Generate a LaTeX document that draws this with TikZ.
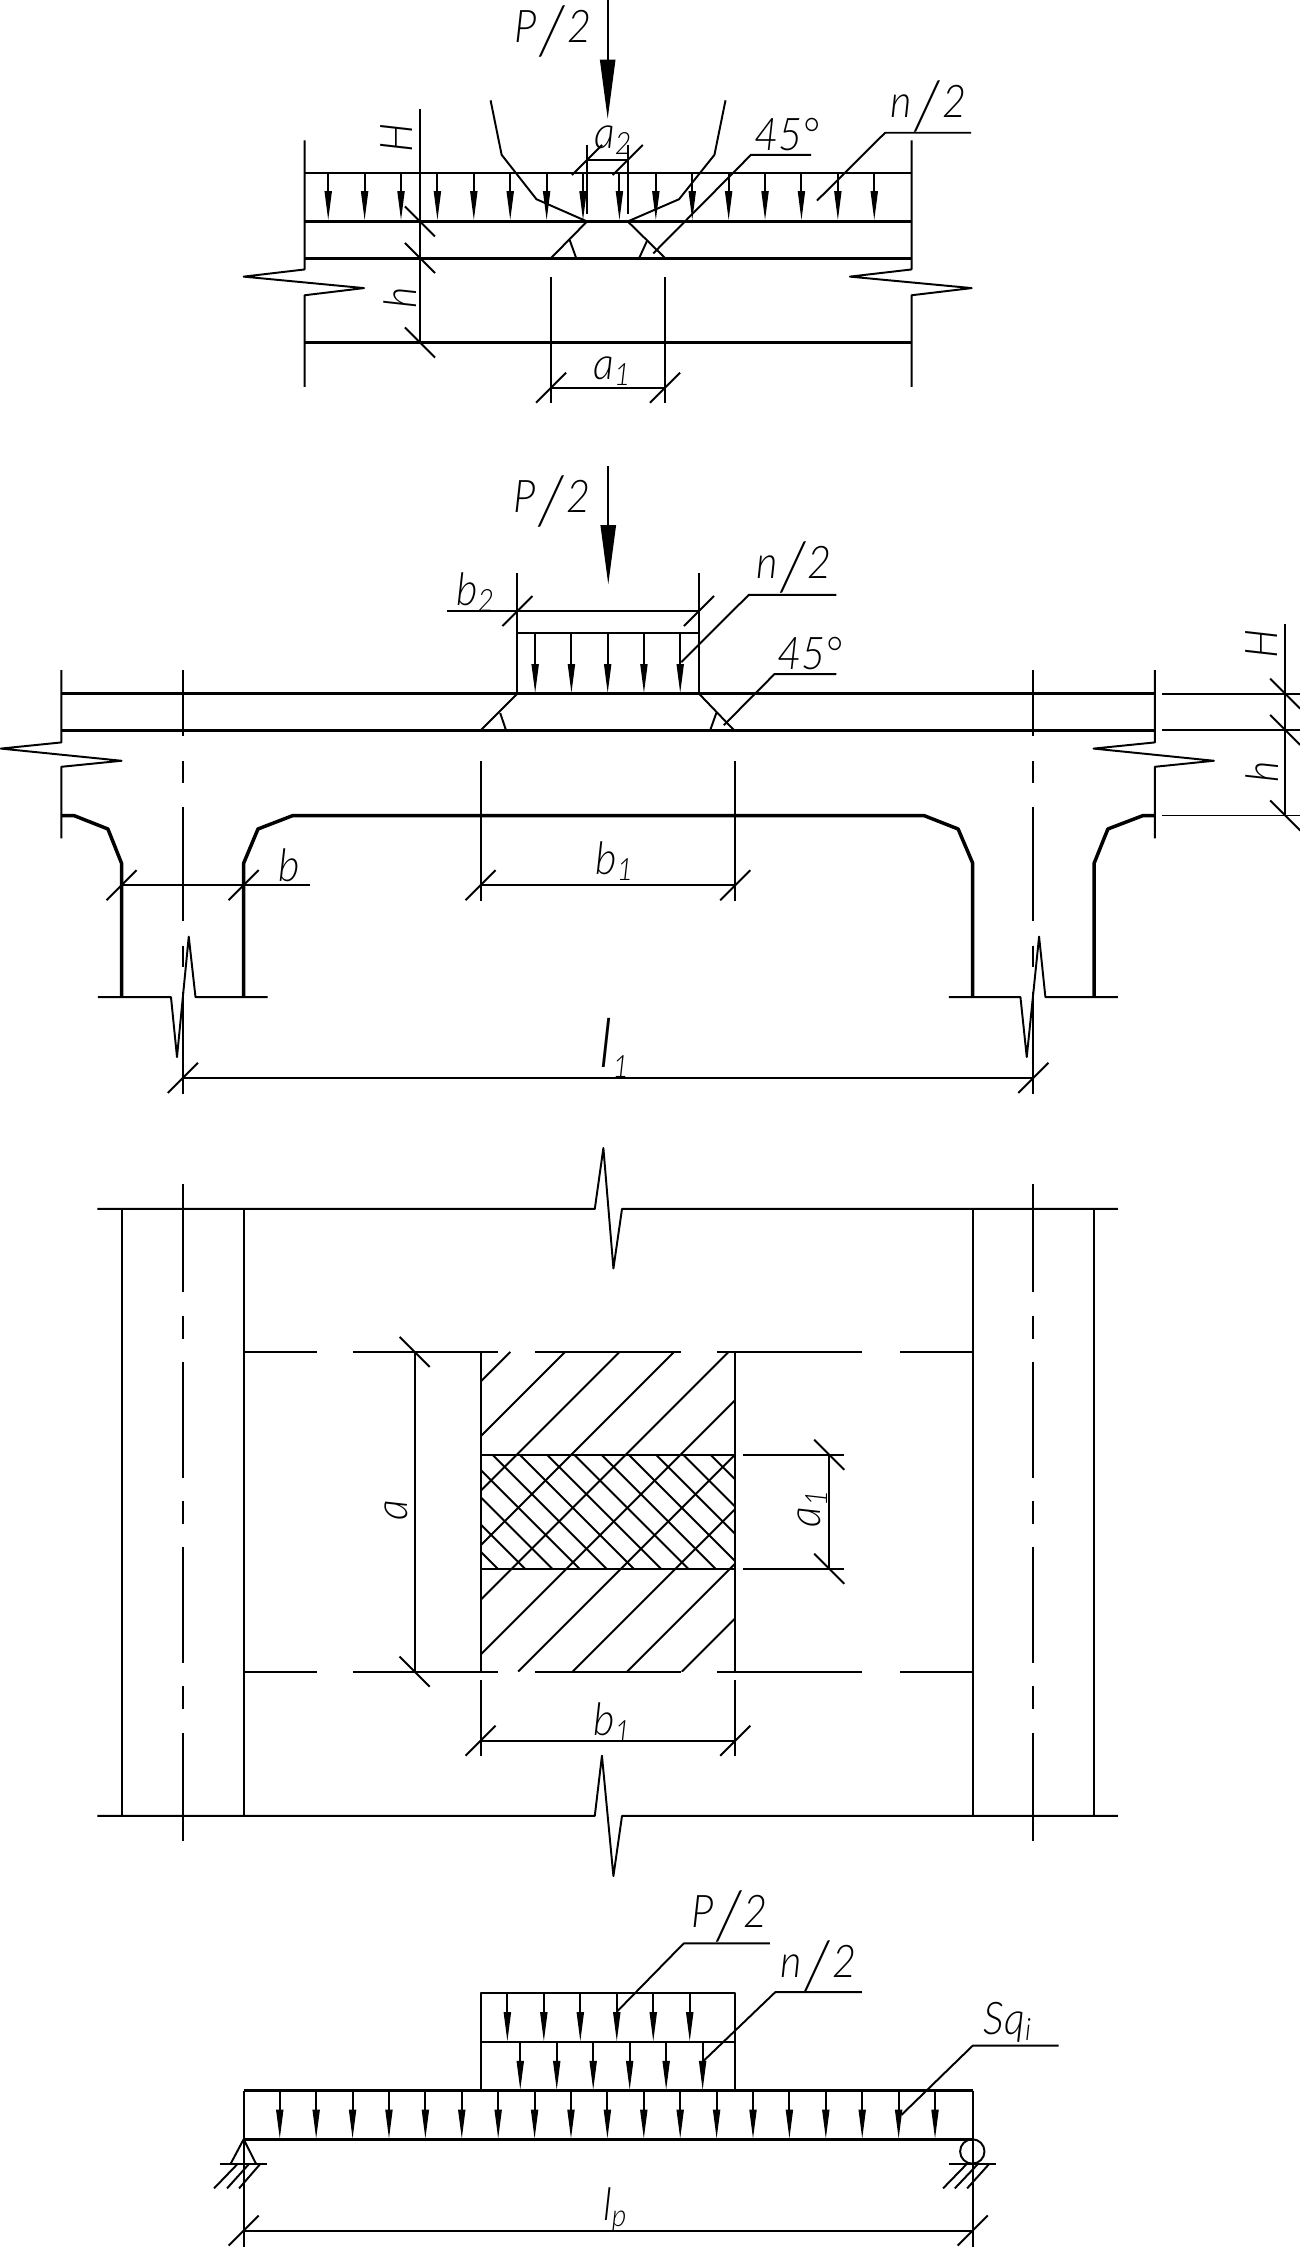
\documentclass[tikz,border=0pt]{standalone}
\usepackage{fontspec}
\usepackage{graphicx}
\usetikzlibrary{arrows.meta}
\newfontfamily\dimfont[FakeStretch=0.92]{Lato Light Italic}
\newcommand{\dimslash}{\kern.06em\raisebox{-.26em}{\scalebox{1.5}{/}}\kern.06em}
\newcommand{\dimsub}[1]{\raisebox{-.14em}{\fontsize{15}{15}\selectfont #1}}
\newcommand{\tickf}[2]{\draw[thinline] (#1-10.5,#2+10.5) -- (#1+10.5,#2-10.5);}
\newcommand{\tickb}[2]{\draw[thinline] (#1-10.5,#2-10.5) -- (#1+10.5,#2+10.5);}
\begin{document}
\begin{tikzpicture}[x=0.7pt, y=-0.7pt]
	\tikzstyle{thinline}=[line width=0.95pt, line join=round]
	\tikzstyle{thickline}=[line width=1.7pt, line join=round]
	\tikzstyle{midline}=[line width=1.25pt]
	\tikzstyle{loadarrow}=[thinline, -{Triangle[length=14.5pt, width=3.4pt]}]
	\tikzstyle{forcearrow}=[thinline, -{Triangle[length=29pt, width=7.4pt]}]
	\tikzstyle{dimlabel}=[inner sep=0pt, font=\dimfont\fontsize{22}{22}\selectfont]
	\useasboundingbox (0,0) rectangle (907,1567.8);
	\fill[white] (0,0) rectangle (907,1567.8);

	\draw[forcearrow] (424,-2) -- (424,83);
	\node[dimlabel] (Pa) at (386,22) {P\dimslash 2};
	\draw[thinline] (212.5,98) -- (212.5,188) -- (170,193) -- (254,201) -- (212.5,206) -- (212.5,270);
	\draw[thinline] (636,98) -- (636,188) -- (593,193) -- (678,201) -- (636,206) -- (636,270);
	\draw[thinline] (212.5,121) -- (636,121);
	\draw[thickline] (212.5,154.5) -- (636,154.5);
	\draw[thickline] (212.5,180.3) -- (636,180.3);
	\draw[thickline] (212.5,239) -- (636,239);
	\foreach \k in {0,...,15}
		\draw[loadarrow] (229+25.4*\k,121) -- (229+25.4*\k,154);
	\draw[thinline] (342.3,70) -- (350,108) -- (374.3,139) -- (409.6,154.5);
	\draw[thinline] (506.2,70) -- (498.5,108) -- (473.8,139) -- (438,154.5);
	\draw[thinline] (409.6,154.5) -- (384.5,180);
	\draw[thinline] (438,154.5) -- (464,180);
	\draw[thinline] (397.5,167.5) -- (402,180);
	\draw[thinline] (451.7,167.5) -- (446,180);
	\draw[thinline] (293,76) -- (293,239);
	\tickb{293}{154.5} \tickb{293}{180} \tickb{293}{239}
	\node[dimlabel, rotate=90] (Ha) at (277,96) {H};
	\node[dimlabel, rotate=90] (ha) at (279,208) {h};
	\draw[thinline] (409.6,101) -- (409.6,149);
	\draw[thinline] (438,101) -- (438,149);
	\draw[thinline] (409.6,111.6) -- (438,111.6);
	\tickf{409.6}{111.6} \tickf{438}{111.6}
	\node[dimlabel] (atwo) at (427.5,98) {a\dimsub{2}};
	\draw[thinline] (384.5,193.5) -- (384.5,281);
	\draw[thinline] (464,193.5) -- (464,281);
	\draw[thinline] (384.5,270.5) -- (464,270.5);
	\tickf{384.5}{270.5} \tickf{464}{270.5}
	\node[dimlabel] (aone) at (427,259) {a\dimsub{1}};
	\draw[thinline] (570,140) -- (617.6,92.6) -- (677.6,92.6);
	\node[dimlabel] (na) at (648,74) {n\dimslash 2};
	\draw[thinline] (455.8,176.8) -- (524,108) -- (566,108);
	\node[dimlabel] (anga) at (549,94) {45°};

	\draw[forcearrow] (424.4,325) -- (424.4,407.8);
	\node[dimlabel] (Pb) at (385,350) {P\dimslash 2};
	\draw[thinline] (42.8,467.6) -- (42.8,518) -- (0.6,522.3) -- (84.8,530.8) -- (42.8,535) -- (42.8,585);
	\draw[thinline] (805.8,467.6) -- (805.8,518) -- (763,522.3) -- (847,530.8) -- (805.8,535) -- (805.8,585);
	\draw[thickline] (42.8,484) -- (805.8,484);
	\draw[thickline] (42.8,509.6) -- (805.8,509.6);
	\draw[thickline] (42.8,569) -- (51.5,569) -- (75.3,578.4) -- (84.8,602.3) -- (84.8,695.7);
	\draw[thickline] (170,695.7) -- (170,602.3) -- (180,578.4) -- (204.4,569) -- (644.6,569) -- (668.5,578.4) -- (678.7,602.3) -- (678.7,695.7);
	\draw[thickline] (763.4,695.7) -- (763.4,602.3) -- (773,578.4) -- (797.6,569) -- (805.8,569);
	\draw[thinline] (68.3,695.7) -- (119.3,695.7) -- (123.5,737.5) -- (131.7,653.5) -- (136.4,695.7) -- (186.7,695.7);
	\draw[thinline] (662,695.7) -- (712,695.7) -- (716.4,737.5) -- (725,653.5) -- (729.4,695.7) -- (780,695.7);
	\foreach \x in {127.6,721} {
		\draw[thinline] (\x,467.6) -- (\x,513.4);
		\draw[thinline] (\x,531) -- (\x,546);
		\draw[thinline] (\x,563) -- (\x,642.7);
		\draw[thinline] (\x,659.8) -- (\x,674.7);
		\draw[thinline] (\x,692) -- (\x,763);
	}
	\draw[thinline] (84.8,617.6) -- (216.3,617.6);
	\tickf{84.8}{617.6} \tickf{170}{617.6}
	\node[dimlabel] (bb) at (201.8,604) {b};
	\draw[thinline] (335.3,530.8) -- (335.3,628.5);
	\draw[thinline] (513,530.8) -- (513,628.5);
	\draw[thinline] (335.3,617.6) -- (513,617.6);
	\tickf{335.3}{617.6} \tickf{513}{617.6}
	\node[dimlabel] (bone) at (428.6,601) {b\dimsub{1}};
	\draw[thinline] (127.6,752) -- (721,752);
	\tickf{127.6}{752} \tickf{721}{752}
	\node[dimlabel] (lone) at (428.6,731) {\fontsize{33}{33}\selectfont l\dimsub{1}};
	\draw[thinline] (361,400) -- (361,484);
	\draw[thinline] (487.7,400) -- (487.7,484);
	\draw[thinline] (312,426.3) -- (487.7,426.3);
	\draw[thinline] (361,441.6) -- (487.7,441.6);
	\tickf{361}{426.3} \tickf{487.7}{426.3}
	\node[dimlabel] (btwo) at (331.5,413) {b\dimsub{2}};
	\foreach \k in {0,...,4}
		\draw[loadarrow] (373.4+25.3*\k,441.6) -- (373.4+25.3*\k,484);
	\draw[thinline] (361,484) -- (335.7,509.3);
	\draw[thinline] (487.7,484) -- (512,509.3);
	\draw[thinline] (349,497.5) -- (353,509.3);
	\draw[thinline] (499.8,497.5) -- (495.6,509.3);
	\draw[thinline] (475.3,462) -- (522.5,415) -- (583.5,415);
	\node[dimlabel] (nb) at (554,396) {n\dimslash 2};
	\draw[thinline] (505,506) -- (540.4,470.3) -- (583.5,470.3);
	\node[dimlabel] (angb) at (565,456) {45°};
	\draw[thinline] (811,484) -- (909,484);
	\draw[thinline] (811,509.3) -- (909,509.3);
	\draw[thinline] (811,569) -- (909,569);
	\draw[thinline] (896.7,435.7) -- (896.7,569);
	\tickb{896.7}{484} \tickb{896.7}{509.3} \tickb{896.7}{569}
	\node[dimlabel, rotate=90] (Hb) at (880.5,449) {H};
	\node[dimlabel, rotate=90] (hb) at (880.5,538.6) {h};

	\draw[thinline] (68,843.5) -- (415,843.5) -- (421,801) -- (428,885) -- (434,843.5) -- (780,843.5);
	\draw[thinline] (68,1267) -- (415,1267) -- (420,1225) -- (428,1309) -- (434,1267) -- (780,1267);
	\foreach \x in {85,170,678.7,763.4}
		\draw[thinline] (\x,843.5) -- (\x,1267);
	\foreach \x in {127.6,721} {
		\draw[thinline] (\x,826.4) -- (\x,901.2);
		\draw[thinline] (\x,918.2) -- (\x,934);
		\draw[thinline] (\x,950.3) -- (\x,1031);
		\draw[thinline] (\x,1047) -- (\x,1063.6);
		\draw[thinline] (\x,1079.7) -- (\x,1160.3);
		\draw[thinline] (\x,1176.5) -- (\x,1192.4);
		\draw[thinline] (\x,1209) -- (\x,1284.6);
	}
	\foreach \y in {943.3,1166.6}
		\foreach \a/\b in {170/221,246.2/347.4,373.5/475,500.6/601.6,628/678.7}
			\draw[thinline] (\a,\y) -- (\b,\y);
	\draw[thinline] (335.3,943.3) -- (335.3,1166.3);
	\draw[thinline] (513,943.3) -- (513,1166.3);
	\draw[thinline] (335.3,1015) -- (513,1015);
	\draw[thinline] (335.3,1094.5) -- (513,1094.5);
	\begin{scope}
		\clip (335.3,943.3) rectangle (513,1166.3);
		\foreach \k in {0,...,9}
			\draw[thinline] (1299.4+38.07*\k-943.3,943.3) -- (1299.4+38.07*\k-1166.3,1166.3);
	\end{scope}
	\begin{scope}
		\clip (335.3,1015) rectangle (513,1094.5);
		\foreach \k in {0,...,12}
			\draw[thinline] (-747.3+19*\k+1015,1015) -- (-747.3+19*\k+1094.5,1094.5);
	\end{scope}
	\draw[thinline] (289.3,943.3) -- (289.3,1166.3);
	\tickb{289.3}{943.3} \tickb{289.3}{1166.3}
	\node[dimlabel, rotate=90] (ac) at (276.5,1053.6) {a};
	\draw[thinline] (518.7,1015) -- (588.6,1015);
	\draw[thinline] (518.7,1094.5) -- (588.6,1094.5);
	\draw[thinline] (578.6,1015) -- (578.6,1094.5);
	\tickb{578.6}{1015} \tickb{578.6}{1094.5}
	\node[dimlabel, rotate=90] (aonec) at (567,1052.5) {a\dimsub{1}};
	\draw[thinline] (335.3,1172) -- (335.3,1225);
	\draw[thinline] (513,1172) -- (513,1225);
	\draw[thinline] (335.3,1214.5) -- (513,1214.5);
	\tickf{335.3}{1214.5} \tickf{513}{1214.5}
	\node[dimlabel] (bonec) at (427,1202) {b\dimsub{1}};

	\draw[thinline] (335.3,1390.6) rectangle (512.7,1458.6);
	\draw[thinline] (335.3,1424.7) -- (512.7,1424.7);
	\foreach \k in {0,...,5} {
		\draw[loadarrow] (354+25.45*\k,1390.6) -- (354+25.45*\k,1424.7);
		\draw[loadarrow] (363+25.45*\k,1424.7) -- (363+25.45*\k,1458.6);
	}
	\draw[midline] (170,1458.6) -- (678.7,1458.6);
	\draw[midline] (170,1492.6) -- (678.7,1492.6);
	\draw[thinline] (170,1458.6) -- (170,1567.8);
	\draw[thinline] (678.7,1458.6) -- (678.7,1567.8);
	\foreach \k in {0,...,18}
		\draw[loadarrow] (195.2+25.4*\k,1458.6) -- (195.2+25.4*\k,1492.6);
	\draw[thinline] (161,1509.6) -- (170,1492.6) -- (178.6,1509.6);
	\draw[thinline] (153.2,1509.6) -- (186.5,1509.6);
	\foreach \a/\b in {166/149.3,174/158.4,181.8/166.8}
		\draw[thinline] (\a,1509.6) -- (\b,1526.9);
	\draw[thinline] (678.4,1501.1) circle (8.5);
	\draw[thinline] (662,1509.6) -- (694.7,1509.6);
	\foreach \a/\b in {674.8/658,682.6/666.2,690.4/674.8}
		\draw[thinline] (\a,1509.6) -- (\b,1526.9);
	\draw[thinline] (170,1556.3) -- (678.7,1556.3);
	\tickf{170}{1556.3} \tickf{678.7}{1556.3}
	\node[dimlabel] (lp) at (429,1542) {l\dimsub{p}};
	\draw[thinline] (430.5,1403.5) -- (477,1356) -- (537.2,1356);
	\node[dimlabel] (Pd) at (509,1337) {P\dimslash 2};
	\draw[thinline] (490.4,1438.4) -- (540.9,1390) -- (601.4,1390);
	\node[dimlabel] (nd) at (571,1372) {n\dimslash 2};
	\draw[thinline] (629,1475.6) -- (678.7,1427.3) -- (738.6,1427.3);
	\node[dimlabel] (sq) at (703,1411) {Sq\dimsub{i}};
\end{tikzpicture}
\end{document}
